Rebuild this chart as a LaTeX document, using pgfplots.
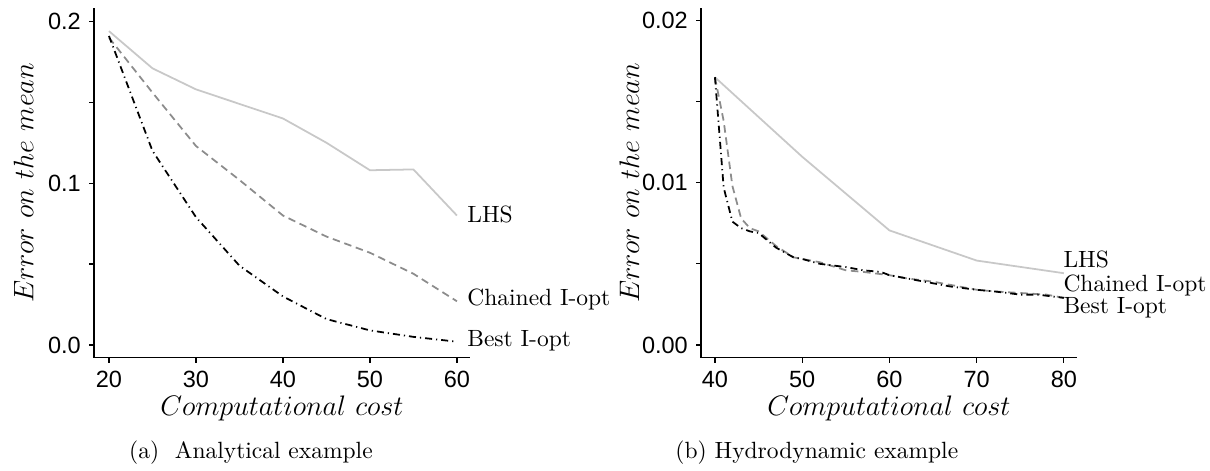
\documentclass[border=0pt]{standalone}
\usepackage{fontspec}
\usepackage{pgfplots}
\usepackage{pgfplotstable}
\pgfplotsset{compat=1.18}
\newfontfamily\sansfont{Liberation Sans}
\definecolor{lhsgray}{RGB}{200,200,200}
\definecolor{chgray}{RGB}{140,140,140}

\pgfplotstableread{
x LHS Chained Best
20 0.194 0.190 0.191
25 0.171 0.156 0.120
30 0.158 0.123 0.079
35 0.149 0.102 0.049
40 0.140 0.080 0.030
45 0.125 0.067 0.016
50 0.108 0.057 0.009
55 0.1085 0.044 0.005
60 0.080 0.027 0.002
}\analytical

\pgfplotstableread{
x LHS
40 0.0165
50 0.0116
60 0.00706
70 0.0052
80 0.00442
}\hydroLHS

\pgfplotstableread{
x Chained
40 0.0165
41 0.0138
42 0.0098
43 0.0078
44 0.0072
45 0.0070
47 0.0061
49 0.0054
50 0.0053
52 0.0051
55 0.0046
57 0.0045
60 0.0043
62 0.0041
65 0.0039
67 0.0037
70 0.0034
72 0.0033
75 0.0032
78 0.0031
80 0.0029
}\hydroChained

\pgfplotstableread{
x Best
40 0.0165
41 0.0097
42 0.0076
43 0.0072
44 0.0070
45 0.0069
47 0.0060
49 0.0054
50 0.0053
52 0.0050
55 0.0048
57 0.0046
59 0.0045
60 0.0043
62 0.0041
65 0.0038
67 0.0036
70 0.0034
72 0.0033
75 0.0031
77 0.0031
80 0.0029
}\hydroBest

\pgfplotsset{
  statastyle/.style={
    scale only axis, width=160pt, height=148.9pt,
    axis x line*=bottom, axis y line*=left,
    tick align=outside, major tick length=2.1pt,
    axis line style={line width=0.5pt, black},
    every tick/.style={black, line width=0.5pt},
    ticklabel style={font=\sansfont\fontsize{10}{12}\selectfont},
    scaled y ticks=false, clip=false,
    lhs/.style={lhsgray, line width=0.75pt},
    ch/.style={chgray, line width=0.75pt, dash pattern=on 3.2pt off 2pt},
    best/.style={black, line width=0.75pt, dash pattern=on 3pt off 1.7pt on 0.5pt off 1.7pt},
  }
}

\begin{document}
\begin{tikzpicture}
\path[use as bounding box] (-40pt,-48.1pt) rectangle (474.9pt,152.3pt);
\begin{axis}[statastyle, name=a, at={(0pt,0pt)}, anchor=south west,
  xmin=18.28, xmax=61.5, ymin=-0.008, ymax=0.2083,
  xtick={20,30,40,50,60}, xticklabels={20,30,40,50,60},
  ytick={0,0.05,0.1,0.15,0.2}, yticklabels={0.0,,0.1,,0.2}]
\addplot[lhs] table[x=x,y=LHS] {\analytical};
\addplot[ch] table[x=x,y=Chained] {\analytical};
\addplot[best] table[x=x,y=Best] {\analytical};
\node[anchor=west, inner sep=0pt] at (axis cs:61.15,0.0804) {LHS};
\node[anchor=west, inner sep=0pt] at (axis cs:61.15,0.0278) {Chained I-opt};
\node[anchor=west, inner sep=0pt] at (axis cs:61.15,0.0025) {Best I-opt};
\end{axis}
\node[rotate=90, font=\fontsize{12.4}{14}\selectfont] at ([xshift=-30pt]a.west) {$Error\ on\ the\ mean$};
\node[font=\fontsize{12.4}{14}\selectfont] at ([yshift=-21.3pt]a.south) {$Computational\ cost$};
\node at (66.8pt,-40.4pt) {(a)\ \ Analytical example};

\begin{axis}[statastyle, name=b, at={(258.3pt,0pt)}, anchor=south west,
  xmin=38.4, xmax=81.5, ymin=-0.0008, ymax=0.02077,
  xtick={40,50,60,70,80}, xticklabels={40,50,60,70,80},
  ytick={0,0.005,0.01,0.015,0.02}, yticklabels={0.00,,0.01,,0.02}]
\addplot[lhs] table[x=x,y=LHS] {\hydroLHS};
\addplot[ch] table[x=x,y=Chained] {\hydroChained};
\addplot[best] table[x=x,y=Best] {\hydroBest};
\node[anchor=west, inner sep=0pt] at (axis cs:79.9,0.00525) {LHS};
\node[anchor=west, inner sep=0pt] at (axis cs:79.9,0.00364) {Chained I-opt};
\node[anchor=west, inner sep=0pt] at (axis cs:79.9,0.00228) {Best I-opt};
\end{axis}
\node[rotate=90, font=\fontsize{12.4}{14}\selectfont] at ([xshift=-30.5pt]b.west) {$Error\ on\ the\ mean$};
\node[font=\fontsize{12.4}{14}\selectfont] at ([yshift=-21.3pt]b.south) {$Computational\ cost$};
\node at (307.6pt,-40.4pt) {(b) Hydrodynamic example};
\end{tikzpicture}
\end{document}
